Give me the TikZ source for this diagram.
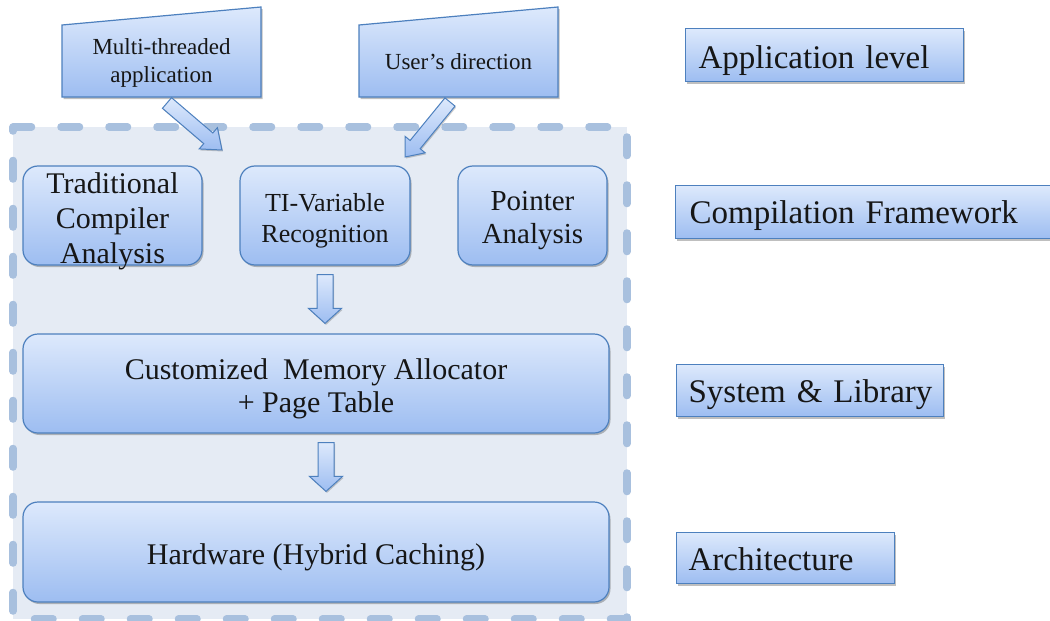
\documentclass[tikz,border=0pt]{standalone}
\usepackage{fontspec}
\setmainfont{Liberation Serif}
\usetikzlibrary{shadows,calc}
\definecolor{boxtop}{HTML}{DDE9FC}
\definecolor{boxbot}{HTML}{9DBDF1}
\definecolor{boxline}{HTML}{4D80BE}
\definecolor{frameline}{HTML}{A8C0DE}
\definecolor{framefill}{HTML}{E5EBF4}
\definecolor{txt}{HTML}{161616}
\tikzset{
  bluebox/.style={draw=boxline, line width=1.2pt, top color=boxtop, bottom color=boxbot,
    drop shadow={shadow xshift=1.5pt, shadow yshift=-2pt, opacity=0.25, fill=black}},
  rbox/.style={bluebox, rounded corners=15pt, inner sep=0pt},
  boxtext/.style={align=center, text=txt, inner sep=0pt},
  levelbox/.style={bluebox, anchor=north west, inner xsep=13pt, inner ysep=0pt, align=left,
    text=txt, font=\fontsize{33}{38}\selectfont},
  callout/.style={bluebox},
  calltext/.style={align=center, text=txt, font=\fontsize{23}{28}\selectfont},
  arrowbox/.style={draw=boxline, line width=1pt, top color=boxtop, bottom color=boxbot,
    drop shadow={shadow xshift=1pt, shadow yshift=-1.5pt, opacity=0.2, fill=black}},
  frame/.style={fill=framefill, draw=frameline, line width=7.5pt, line cap=round,
    dash pattern=on 18.5pt off 29.5pt}
}
\newcommand\blkarrow[5]{%
  \path[arrowbox] let \p1=(#1), \p2=(#2),
    \n1={atan2(\y2-\y1,\x2-\x1)}, \n2={veclen(\x2-\x1,\y2-\y1)} in
    [shift={(\p1)}, rotate=\n1]
    (0,-#3) -- (\n2-#5,-#3) -- (\n2-#5,-#4) -- (\n2,0) -- (\n2-#5,#4) -- (\n2-#5,#3) -- (0,#3) -- cycle;}
\begin{document}
\begin{tikzpicture}[x=1pt,y=-1pt]
\useasboundingbox (0,0) rectangle (1050,621);
\fill[white] (0,0) rectangle (1050,621);

% dashed frame
\draw[frame] (13,127) -- (627,127) -- (627,619) -- (13,619) -- cycle;

% callouts
\path[callout] (62,25) -- (261,7) -- (261,97) -- (62,97) -- cycle;
\node[calltext] (mt) at (161.5,63) {Multi-threaded\\application};
\path[callout] (359,25) -- (558,7) -- (558,97) -- (359,97) -- cycle;
\node[calltext] (ud) at (458.5,62) {User’s direction};
\coordinate (mtTail) at (167,103);
\coordinate (mtTip) at (222,150);
\coordinate (udTail) at (450,102);
\coordinate (udTip) at (405,157);

% top row boxes
\node[rbox, minimum width=179pt, minimum height=99pt] (trad) at (112.5,215.5) {};
\node[boxtext, font=\fontsize{30}{35}\selectfont] (tradtext) at (112.5,221)
  {Traditional\\Compiler\\Analysis};
\node[rbox, minimum width=170pt, minimum height=99pt] (tiv) at (325,215.5) {};
\node[boxtext, font=\fontsize{26}{31}\selectfont] (tivtext) at (325,220.5)
  {TI-Variable\\Recognition};
\node[rbox, minimum width=149pt, minimum height=99pt] (ptr) at (532.5,215.5) {};
\node[boxtext, font=\fontsize{29}{33}\selectfont] (ptrtext) at (532.5,221)
  {Pointer\\Analysis};

\node[rbox, minimum width=586pt, minimum height=99pt] (cma) at (316,383.5) {};
\node[boxtext, font=\fontsize{30}{33}\selectfont] (cmatext) at (316,388.5)
  {Customized\ \ Memory Allocator\\+ Page Table};
\node[rbox, minimum width=586pt, minimum height=100pt] (hw) at (316,552) {};
\node[boxtext, font=\fontsize{30}{35}\selectfont] (hwtext) at (316,557)
  {Hardware (Hybrid Caching)};

% block arrows
\blkarrow{mtTail}{mtTip}{7}{14}{18}
\blkarrow{udTail}{udTip}{6.5}{13}{16}
\blkarrow{$(tiv.south)+(0,9)$}{$(cma.north)+(9,-10)$}{8}{16.5}{15}
\blkarrow{$(cma.south)+(10,9)$}{$(hw.north)+(10,-10)$}{8}{16.5}{15}

% level labels
\node[levelbox, text width=252pt, text height=40pt, text depth=13pt] (app) at (685,28)
  {\mbox{Application level}};
\node[levelbox, inner xsep=14pt, text width=360pt, text height=38pt, text depth=15pt] (comp) at (675,185)
  {\mbox{Compilation Framework}};
\node[levelbox, inner xsep=12pt, text width=243pt, text height=38pt, text depth=14pt] (sys) at (676,364)
  {\mbox{System \& Library}};
\node[levelbox, inner xsep=12pt, text width=194pt, text height=38pt, text depth=13pt] (arch) at (676,532)
  {\mbox{Architecture}};
\end{tikzpicture}
\end{document}
